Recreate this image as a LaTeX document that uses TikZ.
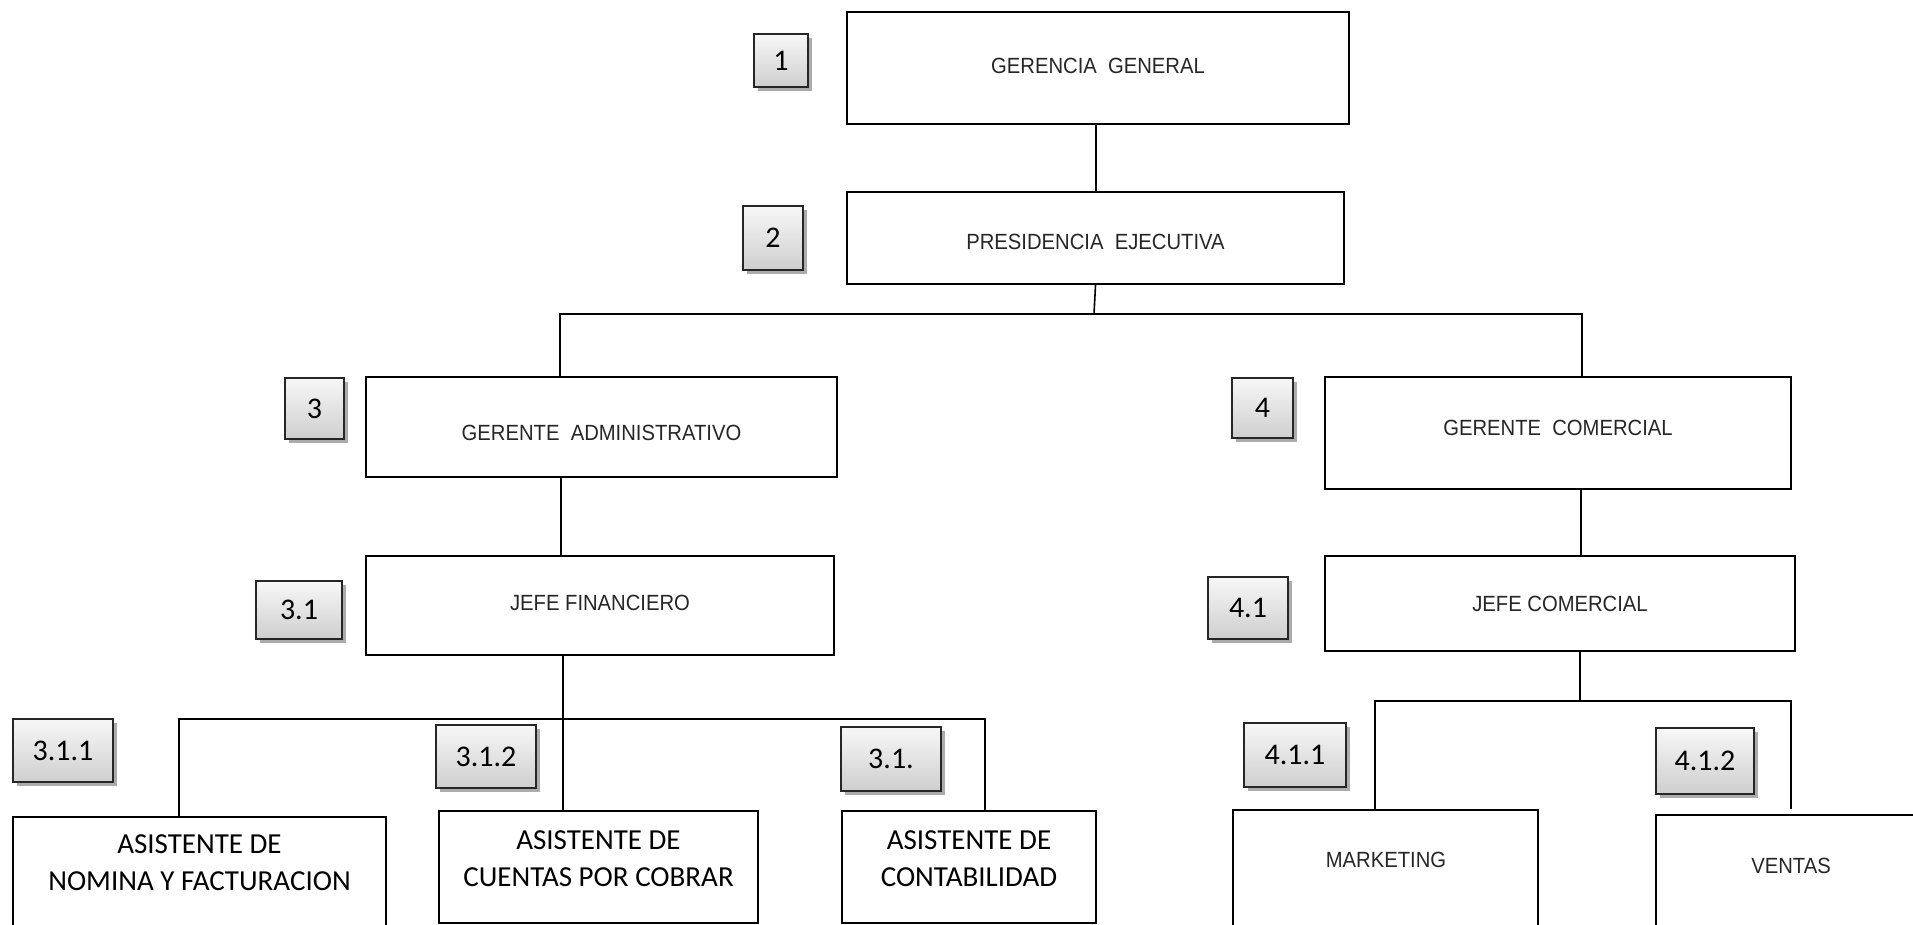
\documentclass[tikz,border=0pt]{standalone}
\usepackage{fontspec}
\setmainfont{Carlito}
\newfontfamily\narrowsans[FakeStretch=0.92]{Liberation Sans}
\usetikzlibrary{shadows}
\begin{document}
\begin{tikzpicture}[x=1pt,y=-1pt,
  orgbox/.style={draw=black, fill=white, rectangle, inner sep=0pt, font=\narrowsans\fontsize{22}{26}\selectfont, text=black!85},
  thickbox/.style={orgbox, line width=2.4pt},
  thinbox/.style={orgbox, line width=1.4pt},
  numbox/.style={draw=black!85, line width=1.4pt, top color=gray!6, bottom color=gray!38, inner sep=0pt, font=\fontsize{30}{33}\selectfont, drop shadow={shadow xshift=4pt, shadow yshift=-4pt, fill=gray!65, opacity=1}},
  asttext/.style={align=center, font=\fontsize{29}{37}\selectfont, inner sep=0pt},
  mtext/.style={inner sep=0pt, font=\narrowsans\fontsize{22}{26}\selectfont, text=black!85},
  conn/.style={line width=1.6pt, black}]
\useasboundingbox (0,0) rectangle (1913,925);
\clip (0,0) rectangle (1913,925);
\fill[white] (0,0) rectangle (1913,925);

% main boxes
\node[thickbox, minimum width=502, minimum height=112, text depth=5pt] (gg) at (1098,68) {GERENCIA\ \ GENERAL};
\node[thickbox, minimum width=497, minimum height=92, text height=23pt] (pe) at (1095.5,238) {PRESIDENCIA\ \ EJECUTIVA};
\node[thickbox, minimum width=471, minimum height=100, text height=28pt] (ga) at (601.5,427) {GERENTE\ \ ADMINISTRATIVO};
\node[thinbox, minimum width=466, minimum height=112, text depth=10pt] (gc) at (1558,433) {GERENTE\ \ COMERCIAL};
\node[thinbox, minimum width=468, minimum height=99, text depth=5pt] (jf) at (600,605.5) {JEFE FINANCIERO};
\node[thinbox, minimum width=470, minimum height=95] (jc) at (1560,603.5) {JEFE COMERCIAL};

% bottom boxes
\node[thinbox, minimum width=373, minimum height=122] (a1) at (199.5,878) {};
\node[asttext] (a1t) at (199.5,863) {ASISTENTE DE\\NOMINA Y FACTURACION};
\node[thinbox, minimum width=319, minimum height=112] (a2) at (598.5,867) {};
\node[asttext] (a2t) at (598.5,859) {ASISTENTE DE\\CUENTAS POR COBRAR};
\node[thinbox, minimum width=254, minimum height=112] (a3) at (969,867) {};
\node[asttext] (a3t) at (969,859) {ASISTENTE DE\\CONTABILIDAD};
\node[thickbox, minimum width=305, minimum height=130] (mk) at (1385.5,875) {};
\node[mtext] (mkt) at (1386,860) {MARKETING};
\node[thinbox, minimum width=279, minimum height=125] (vt) at (1795.5,877.5) {};
\node[mtext] (vtt) at (1791,866) {VENTAS};

% number boxes
\node[numbox, minimum width=54, minimum height=53] (n1) at (781,60.5) {1};
\node[numbox, minimum width=60, minimum height=64] (n2) at (773,238) {2};
\node[numbox, minimum width=59, minimum height=61] (n3) at (314.5,408.5) {3};
\node[numbox, minimum width=61, minimum height=60] (n4) at (1262.5,408) {4};
\node[numbox, minimum width=86, minimum height=58] (n31) at (299,610) {3.1};
\node[numbox, minimum width=80, minimum height=62] (n41) at (1248,608) {4.1};
\node[numbox, minimum width=100, minimum height=63] (n311) at (63,750.5) {3.1.1};
\node[numbox, minimum width=100, minimum height=63] (n312) at (486,756.5) {3.1.2};
\node[numbox, minimum width=100, minimum height=64] (n313) at (891,759) {3.1.};
\node[numbox, minimum width=102, minimum height=64] (n411) at (1295,755) {4.1.1};
\node[numbox, minimum width=98, minimum height=66] (n412) at (1705,761) {4.1.2};

% connectors
\coordinate (x0) at (1096,0);
\coordinate (j0) at (1094,314);
\coordinate (jl) at (560,314);
\coordinate (jr) at (1582,314);
\coordinate (xa) at (561,0);
\coordinate (xc) at (1581,0);
\coordinate (xb) at (563,0);
\coordinate (hl) at (179,719);
\coordinate (hr) at (985,719);
\coordinate (hj) at (1580,701);
\coordinate (hl2) at (1375,701);
\coordinate (hr2) at (1791,701);
\coordinate (vtend) at (1791,809);

\draw[conn] (gg.south -| x0) -- (pe.north -| x0);
\draw[conn] (pe.south) -- (j0);
\draw[conn] (ga.north -| jl) -- (jl) -- (jr) -- (gc.north -| jr);
\draw[conn] (ga.south -| xa) -- (jf.north -| xa);
\draw[conn] (gc.south -| xc) -- (jc.north -| xc);
\draw[conn] (jf.south -| xb) -- (a2.north -| xb);
\draw[conn] (a1.north -| hl) -- (hl) -- (hr) -- (a3.north -| hr);
\draw[conn] (jc.south -| hj) -- (hj);
\draw[conn] (mk.north -| hl2) -- (hl2) -- (hr2) -- (vtend);
\end{tikzpicture}
\end{document}
